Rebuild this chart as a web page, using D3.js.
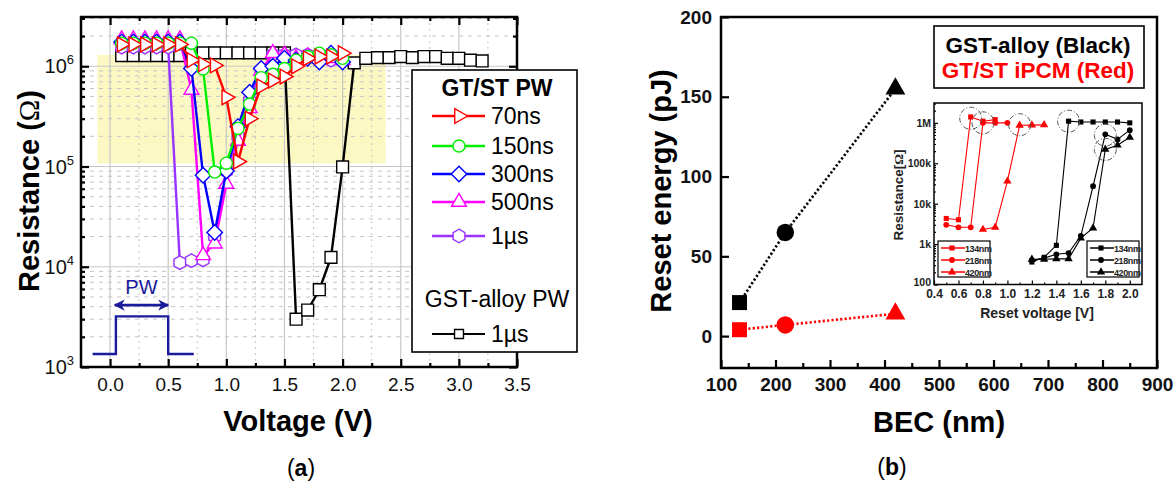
<!DOCTYPE html>
<html><head><meta charset="utf-8">
<script src="https://cdn.jsdelivr.net/npm/d3@7"></script>
<style>
body{margin:0;background:#fff}
svg{display:block}
text{font-family:'Liberation Sans',Arial,sans-serif}
</style>
</head><body>
<svg id="c" width="1175" height="486"></svg>
<script>
// ---------- Panel (a) data ----------
const voltsGTST = [0.1,0.2,0.3,0.4,0.5,0.6,0.7,0.8,0.9,1.0,1.1,1.2,1.3,1.4,1.5,1.6,1.7,1.8,1.9,2.0];
const res70ns  = [1.65e6,1.65e6,1.65e6,1.65e6,1.65e6,1.65e6,1.15e6,1.05e6,1.02e6,4.9e5,1.12e5,3.0e5,6.3e5,7.2e5,7.9e5,1.0e6,1.2e6,1.25e6,1.25e6,1.35e6];
const res150ns = [1.7e6,1.7e6,1.7e6,1.7e6,1.7e6,1.7e6,1.7e6,9.4e5,8.8e4,1.08e5,2.4e5,4.2e5,7.7e5,8.3e5,9.5e5,1.15e6,1.25e6,1.35e6,1.3e6,1.2e6];
const res300ns = [1.75e6,1.75e6,1.75e6,1.75e6,1.75e6,1.75e6,9.5e5,8.2e4,2.2e4,9.0e4,2.5e5,5.5e5,9.5e5,1.0e6,1.2e6,1.15e6,1.2e6,1.1e6,1.35e6,1.1e6];
const res500ns = [1.85e6,1.85e6,1.85e6,1.85e6,1.85e6,1.85e6,5.8e5,1.3e4,1.7e4,6.7e4,1.8e5,3.8e5,9.0e5,1.35e6,1.3e6,1.2e6,1.25e6,1.2e6,1.2e6,1.15e6];
const res1us   = [1.55e6,1.55e6,1.55e6,1.55e6,1.55e6,1.1e4,1.15e4,1.17e4,2.0e4,9.0e4,2.0e5,4.5e5,9.0e5,1.3e6,1.3e6,1.3e6,1.3e6,1.25e6,1.15e6,1.2e6];
const voltsGST = [0.1,0.2,0.3,0.4,0.5,0.6,0.7,0.8,0.9,1.0,1.1,1.2,1.3,1.4,1.5,1.6,1.7,1.8,1.9,2.0,2.1,2.2,2.3,2.4,2.5,2.6,2.7,2.8,2.9,3.0,3.1,3.2];
const resGST1us = [1.28e6,1.28e6,1.28e6,1.28e6,1.28e6,1.28e6,1.36e6,1.36e6,1.36e6,1.36e6,1.36e6,1.36e6,1.36e6,1.36e6,1.36e6,3.0e3,3.7e3,5.9e3,1.24e4,9.9e4,1.08e6,1.2e6,1.22e6,1.22e6,1.25e6,1.22e6,1.25e6,1.25e6,1.2e6,1.2e6,1.15e6,1.13e6];
const voltTicksA = [0.0,0.5,1.0,1.5,2.0,2.5,3.0,3.5];
const resDecadesA = [1e3,1e4,1e5,1e6];
const legendA = ['70ns','150ns','300ns','500ns','1\u00b5s'];

// ---------- Panel (b) data ----------
const becNm = [134,218,420];
const energyGST = [21,65,155];
const energyIPCM = [4,7,14];
const becTicks = [100,200,300,400,500,600,700,800,900];
const energyTicks = [0,50,100,150,200];

// ---------- Inset data ----------
const insetRedV134 = [0.5,0.6,0.7,0.8,0.9];
const insetRedR134 = [4.3e3,4.0e3,1.4e6,1.1e6,1.2e6];
const insetRedV218 = [0.5,0.6,0.7,0.8,0.9,1.0];
const insetRedR218 = [3.0e3,2.6e3,2.6e3,1.0e6,1.0e6,1.0e6];
const insetRedV420 = [0.8,0.9,1.0,1.1,1.2,1.3];
const insetRedR420 = [2.3e3,2.6e3,3.6e4,8.7e5,8.8e5,8.9e5];
const insetBlkV = [1.2,1.3,1.4,1.5,1.6,1.7,1.8,1.9,2.0];
const insetBlkR134 = [3.6e2,4.7e2,9.3e2,1.1e6,1.05e6,1.05e6,1.05e6,1.05e6,1.0e6];
const insetBlkR218 = [4.0e2,4.5e2,5.6e2,6.0e2,1.6e3,2.7e4,5.2e5,3.9e5,6.6e5];
const insetBlkR420 = [4.2e2,4.2e2,4.3e2,4.3e2,1.4e3,2.5e3,2.2e5,2.8e5,4.4e5];
const insetCircV = [0.7,0.8,1.1,1.5,1.8,1.8];
const insetCircR = [1.3e6,1.0e6,0.9e6,1.1e6,5.0e5,2.2e5];
const insetVTicks = [0.4,0.6,0.8,1.0,1.2,1.4,1.6,1.8,2.0];
const insetRTicks = [100,1e3,1e4,1e5,1e6];
const insetRLabels = ['100','1k','10k','100k','1M'];
const insetLegend = ['134nm','218nm','420nm'];

const svg = d3.select('#c');

// ================= PANEL (a) =================
const xA = d3.scaleLinear().domain([-0.25,3.5]).range([81,517]);
const yA = d3.scaleLog().domain([1e3,3.1e6]).range([367,17]);
const gA = svg.append('g');

// yellow window
gA.append('rect')
  .attr('x',xA(-0.11)).attr('y',yA(1.3e6))
  .attr('width',xA(2.37)-xA(-0.11)).attr('height',yA(1.07e5)-yA(1.3e6))
  .attr('fill','#fcf8c4');

// grid
const minorV = d3.range(-0.25,3.5,0.5).filter(v=>v>-0.25);
const minorR = [];
[1e3,1e4,1e5,1e6].forEach(d=>{for(let k=2;k<=9;k++){const v=d*k; if(v<3.1e6) minorR.push(v);}});
gA.selectAll('.gmv').data(minorV).join('line')
  .attr('x1',d=>xA(d)).attr('x2',d=>xA(d)).attr('y1',17).attr('y2',367)
  .attr('stroke','#c4c4c4').attr('stroke-width',1).attr('stroke-dasharray','2,4');
gA.selectAll('.gmh').data(minorR).join('line')
  .attr('x1',81).attr('x2',517).attr('y1',d=>yA(d)).attr('y2',d=>yA(d))
  .attr('stroke','#c4c4c4').attr('stroke-width',1).attr('stroke-dasharray','4,5');
gA.selectAll('.gMv').data(voltTicksA.slice(0,7)).join('line')
  .attr('x1',d=>xA(d)).attr('x2',d=>xA(d)).attr('y1',17).attr('y2',367)
  .attr('stroke','#c8c8c8').attr('stroke-width',1.2);
gA.selectAll('.gMh').data([1e4,1e5,1e6]).join('line')
  .attr('x1',81).attr('x2',517).attr('y1',d=>yA(d)).attr('y2',d=>yA(d))
  .attr('stroke','#c8c8c8').attr('stroke-width',1.2);

// axes (inward ticks)
function styleAxis(g){ g.select('.domain').remove(); g.selectAll('line').attr('stroke','#000').attr('stroke-width',2.2); }
gA.append('g').attr('transform','translate(0,367)')
  .call(d3.axisBottom(xA).tickValues(voltTicksA).tickSize(-8).tickPadding(11).tickFormat(d3.format('.1f')))
  .call(styleAxis).call(g=>g.selectAll('text').attr('font-size',19).attr('fill','#111'));
gA.append('g').attr('transform','translate(0,367)')
  .call(d3.axisBottom(xA).tickValues(minorV).tickSize(-4).tickFormat(''))
  .call(styleAxis);
gA.append('g').attr('transform','translate(0,17)')
  .call(d3.axisTop(xA).tickValues(voltTicksA).tickSize(-8).tickFormat(''))
  .call(styleAxis);
gA.append('g').attr('transform','translate(0,17)')
  .call(d3.axisTop(xA).tickValues(minorV).tickSize(-4).tickFormat(''))
  .call(styleAxis);
gA.append('g').attr('transform','translate(81,0)')
  .call(d3.axisLeft(yA).tickValues(resDecadesA).tickSize(-8).tickFormat(''))
  .call(styleAxis);
gA.append('g').attr('transform','translate(81,0)')
  .call(d3.axisLeft(yA).tickValues(minorR).tickSize(-4).tickFormat(''))
  .call(styleAxis);
gA.append('g').attr('transform','translate(517,0)')
  .call(d3.axisRight(yA).tickValues(resDecadesA).tickSize(-8).tickFormat(''))
  .call(styleAxis);
gA.append('g').attr('transform','translate(517,0)')
  .call(d3.axisRight(yA).tickValues(minorR).tickSize(-4).tickFormat(''))
  .call(styleAxis);
// y labels with superscripts
resDecadesA.forEach(d=>{
  const t = gA.append('text').attr('x',74).attr('y',yA(d)+7).attr('text-anchor','end')
    .attr('font-size',20).attr('fill','#111');
  t.append('tspan').text('10');
  t.append('tspan').attr('dy',-9).attr('font-size',13).text(Math.round(Math.log10(d)));
});

// series
function hexPath(r){ const p=[]; for(let i=0;i<6;i++){const a=Math.PI/180*(60*i-90); p.push([r*Math.cos(a),r*Math.sin(a)]);} return 'M'+p.map(q=>q.join(',')).join('L')+'Z'; }
const shapes = {
  triR: {d: d3.symbol(d3.symbolTriangle,95)(), rot:90},
  circle: {d: d3.symbol(d3.symbolCircle,115)(), rot:0},
  diamond: {d: d3.symbol(d3.symbolSquare,120)(), rot:45},
  triU: {d: d3.symbol(d3.symbolTriangle,95)(), rot:0},
  hex: {d: hexPath(6.8), rot:0},
  square: {d: d3.symbol(d3.symbolSquare,140)(), rot:0}
};
const seriesA = [
  {vals:resGST1us, volts:voltsGST, color:'#000000', shape:'square'},
  {vals:res1us, volts:voltsGTST, color:'#9933ff', shape:'hex'},
  {vals:res500ns, volts:voltsGTST, color:'#ff00ff', shape:'triU'},
  {vals:res300ns, volts:voltsGTST, color:'#0000ff', shape:'diamond'},
  {vals:res150ns, volts:voltsGTST, color:'#00ee00', shape:'circle'},
  {vals:res70ns, volts:voltsGTST, color:'#ff0000', shape:'triR'}
];
const lineA = d3.line().x(d=>xA(d[0])).y(d=>yA(d[1]));
seriesA.forEach(s=>{
  const pts = s.volts.map((v,i)=>[v,s.vals[i]]);
  gA.append('path').datum(pts).attr('d',lineA).attr('fill','none')
    .attr('stroke',s.color).attr('stroke-width',2.4);
  gA.selectAll(null).data(pts).join('path')
    .attr('d',shapes[s.shape].d)
    .attr('transform',d=>`translate(${xA(d[0])},${yA(d[1])}) rotate(${shapes[s.shape].rot})`)
    .attr('fill','#fff').attr('stroke',s.color).attr('stroke-width',1.4);
});

// frame
gA.append('rect').attr('x',81).attr('y',17).attr('width',436).attr('height',350)
  .attr('fill','none').attr('stroke','#000').attr('stroke-width',2.5);

// pulse annotation
const pulseV = [-0.15,0.05,0.05,0.5,0.5,0.72];
const pulseR = [1.35e3,1.35e3,3.2e3,3.2e3,1.35e3,1.35e3];
const pwColor = '#1a1a9a';
gA.append('path').datum(pulseV.map((v,i)=>[v,pulseR[i]])).attr('d',lineA)
  .attr('fill','none').attr('stroke',pwColor).attr('stroke-width',2.4);
const defs = svg.append('defs');
defs.append('marker').attr('id','ah').attr('viewBox','0 0 10 10').attr('refX',9).attr('refY',5)
  .attr('markerWidth',4).attr('markerHeight',4).attr('orient','auto-start-reverse').attr('markerUnits','strokeWidth')
  .append('path').attr('d','M0,0L10,5L0,10L3,5Z').attr('fill',pwColor);
gA.append('line').attr('x1',xA(0.04)).attr('x2',xA(0.5)).attr('y1',yA(4.15e3)).attr('y2',yA(4.15e3))
  .attr('stroke',pwColor).attr('stroke-width',2.8)
  .attr('marker-start','url(#ah)').attr('marker-end','url(#ah)');
gA.append('text').attr('x',xA(0.27)).attr('y',yA(5.3e3)).attr('text-anchor','middle')
  .attr('font-size',20).attr('fill',pwColor).text('PW');

// legend (a)
const lg = gA.append('g');
lg.append('rect').attr('x',412).attr('y',70).attr('width',165).attr('height',282)
  .attr('fill','#fff').attr('stroke','#000').attr('stroke-width',1.6);
lg.append('text').attr('x',497).attr('y',96).attr('text-anchor','middle').attr('font-size',23)
  .attr('font-weight','bold').text('GT/ST PW');
const legRows = [116,146,174,202,236];
const legSeries = seriesA.slice(1).reverse();
legSeries.forEach((s,i)=>{
  const y = legRows[i];
  lg.append('line').attr('x1',432).attr('x2',485).attr('y1',y).attr('y2',y).attr('stroke',s.color).attr('stroke-width',2.4);
  lg.append('path').attr('d',shapes[s.shape].d).attr('transform',`translate(459,${y}) rotate(${shapes[s.shape].rot})`)
    .attr('fill','#fff').attr('stroke',s.color).attr('stroke-width',1.4);
  lg.append('text').attr('x',491).attr('y',y+8).attr('font-size',23).text(legendA[i]);
});
lg.append('text').attr('x',497).attr('y',307).attr('text-anchor','middle').attr('font-size',23).text('GST-alloy PW');
lg.append('line').attr('x1',432).attr('x2',485).attr('y1',334).attr('y2',334).attr('stroke','#000').attr('stroke-width',2);
lg.append('path').attr('d',d3.symbol(d3.symbolSquare,80)()).attr('transform','translate(459,334)')
  .attr('fill','#fff').attr('stroke','#000').attr('stroke-width',1.4);
lg.append('text').attr('x',491).attr('y',342).attr('font-size',23).text('1\u00b5s');

// axis titles (a)
gA.append('text').attr('x',298).attr('y',431).attr('text-anchor','middle').attr('font-size',29)
  .attr('font-weight','bold').text('Voltage (V)');
const yt = gA.append('text').attr('transform','translate(39,191) rotate(-90)').attr('text-anchor','middle')
  .attr('font-size',29).attr('font-weight','bold');
yt.append('tspan').text('Resistance (');
yt.append('tspan').attr('font-family','Liberation Serif').attr('font-weight','normal').text('\u03a9');
yt.append('tspan').text(')');
const ta = svg.append('text').attr('x',301).attr('y',476).attr('text-anchor','middle').attr('font-size',23)
  .attr('font-family','Liberation Serif');
ta.append('tspan').text('(');
ta.append('tspan').attr('font-weight','bold').text('a');
ta.append('tspan').text(')');

// ================= PANEL (b) =================
const xB = d3.scaleLinear().domain([100,900]).range([721,1157]);
const yB = d3.scaleLinear().domain([-20,200]).range([368,17]);
const gB = svg.append('g');
gB.append('g').attr('transform','translate(0,368)')
  .call(d3.axisBottom(xB).tickValues(becTicks).tickSize(-8).tickPadding(10).tickFormat(d3.format('d')))
  .call(styleAxis).call(g=>g.selectAll('text').attr('font-size',19).attr('font-weight','bold').attr('fill','#111'));
gB.append('g').attr('transform','translate(0,368)')
  .call(d3.axisBottom(xB).tickValues(d3.range(150,900,100)).tickSize(-5).tickFormat(''))
  .call(styleAxis);
gB.append('g').attr('transform','translate(721,0)')
  .call(d3.axisLeft(yB).tickValues(energyTicks).tickSize(-8).tickPadding(9).tickFormat(d3.format('d')))
  .call(styleAxis).call(g=>g.selectAll('text').attr('font-size',19).attr('font-weight','bold').attr('fill','#111'));
gB.append('rect').attr('x',721).attr('y',17).attr('width',436).attr('height',351)
  .attr('fill','none').attr('stroke','#000').attr('stroke-width',2.5);

const lineB = d3.line().x(d=>xB(d[0])).y(d=>yB(d[1]));
[[energyGST,'#000'],[energyIPCM,'#ff0000']].forEach(([vals,col])=>{
  const pts = becNm.map((b,i)=>[b,vals[i]]);
  gB.append('path').datum(pts).attr('d',lineB).attr('fill','none').attr('stroke',col)
    .attr('stroke-width',2.6).attr('stroke-dasharray','2.2,2.2');
  const syms = [d3.symbol(d3.symbolSquare,225)(), d3.symbol(d3.symbolCircle,240)(), d3.symbol(d3.symbolTriangle,170)()];
  gB.selectAll(null).data(pts).join('path').attr('d',(d,i)=>syms[i])
    .attr('transform',d=>`translate(${xB(d[0])},${yB(d[1])})`).attr('fill',col);
});

gB.append('text').attr('x',939).attr('y',432).attr('text-anchor','middle').attr('font-size',29)
  .attr('font-weight','bold').text('BEC (nm)');
gB.append('text').attr('transform','translate(671,191) rotate(-90)').attr('text-anchor','middle')
  .attr('font-size',29).attr('font-weight','bold').text('Reset energy (pJ)');
const tb = svg.append('text').attr('x',892).attr('y',475).attr('text-anchor','middle').attr('font-size',23)
  .attr('font-family','Liberation Serif');
tb.append('tspan').text('(');
tb.append('tspan').attr('font-weight','bold').text('b');
tb.append('tspan').text(')');

// legend (b)
gB.append('rect').attr('x',934).attr('y',26).attr('width',210).attr('height',62)
  .attr('fill','#fff').attr('stroke','#000').attr('stroke-width',1.6);
gB.append('text').attr('x',1038).attr('y',53).attr('text-anchor','middle').attr('font-size',22.5)
  .attr('font-weight','bold').text('GST-alloy (Black)');
gB.append('text').attr('x',1038).attr('y',78).attr('text-anchor','middle').attr('font-size',22.5)
  .attr('font-weight','bold').attr('fill','#ff0000').text('GT/ST iPCM (Red)');

// ================= INSET =================
const xC = d3.scaleLinear().domain([0.4,2.1]).range([934,1142]);
const yC = d3.scaleLog().domain([100,3.1e6]).range([284.5,103]);
const gC = svg.append('g');
gC.append('rect').attr('x',934).attr('y',103).attr('width',208).attr('height',181.5)
  .attr('fill','#fff').attr('stroke','#000').attr('stroke-width',1.5);
function styleSmall(g){ g.select('.domain').remove(); g.selectAll('line').attr('stroke','#000').attr('stroke-width',1.2); }
gC.append('g').attr('transform','translate(0,284.5)')
  .call(d3.axisBottom(xC).tickValues(insetVTicks).tickSize(-4).tickPadding(5).tickFormat(d3.format('.1f')))
  .call(styleSmall).call(g=>g.selectAll('text').attr('font-size',12).attr('font-weight','bold').attr('fill','#222'));
gC.append('g').attr('transform','translate(0,284.5)')
  .call(d3.axisBottom(xC).tickValues(d3.range(0.5,2.1,0.2)).tickSize(-2).tickFormat(''))
  .call(styleSmall);
gC.append('g').attr('transform','translate(934,0)')
  .call(d3.axisLeft(yC).tickValues(insetRTicks).tickSize(-4).tickPadding(3).tickFormat((d,i)=>insetRLabels[i]))
  .call(styleSmall).call(g=>g.selectAll('text').attr('font-size',10.5).attr('font-weight','bold').attr('fill','#222')
     .attr('dy',(d,i)=>i===0?'0.1em':'0.32em'));
const minorC=[]; [100,1e3,1e4,1e5,1e6].forEach(d=>{for(let k=2;k<=9;k++){const v=d*k; if(v<3.1e6) minorC.push(v);}});
gC.append('g').attr('transform','translate(934,0)')
  .call(d3.axisLeft(yC).tickValues(minorC).tickSize(-2).tickFormat(''))
  .call(styleSmall);
gC.append('text').attr('x',1037).attr('y',318).attr('text-anchor','middle').attr('font-size',14)
  .attr('font-weight','bold').attr('fill','#222').text('Reset voltage [V]');
const yc = gC.append('text').attr('transform','translate(903,195) rotate(-90)').attr('text-anchor','middle')
  .attr('font-size',13.5).attr('font-weight','bold').attr('fill','#222');
yc.append('tspan').text('Resistance[');
yc.append('tspan').attr('font-family','Liberation Serif').text('\u03a9');
yc.append('tspan').text(']');

const lineC = d3.line().x(d=>xC(d[0])).y(d=>yC(d[1]));
const symC = [d3.symbol(d3.symbolSquare,26)(), d3.symbol(d3.symbolCircle,26)(), d3.symbol(d3.symbolTriangle,30)()];
const insetSeries = [
  [insetRedV134,insetRedR134,'#ff0000',0],[insetRedV218,insetRedR218,'#ff0000',1],[insetRedV420,insetRedR420,'#ff0000',2],
  [insetBlkV,insetBlkR134,'#000',0],[insetBlkV,insetBlkR218,'#000',1],[insetBlkV,insetBlkR420,'#000',2]
];
insetSeries.forEach(([vs,rs,col,si])=>{
  const pts = vs.map((v,i)=>[v,rs[i]]);
  gC.append('path').datum(pts).attr('d',lineC).attr('fill','none').attr('stroke',col).attr('stroke-width',1.1);
  gC.selectAll(null).data(pts).join('path').attr('d',symC[si])
    .attr('transform',d=>`translate(${xC(d[0])},${yC(d[1])})`).attr('fill',col);
});
gC.selectAll(null).data(insetCircV.map((v,i)=>[v,insetCircR[i]])).join('circle')
  .attr('cx',d=>xC(d[0])).attr('cy',d=>yC(d[1])).attr('r',11)
  .attr('fill','none').attr('stroke','#555').attr('stroke-width',1).attr('stroke-dasharray','5,2,1,2');

// inset legends
[[938,'#ff0000'],[1087,'#000']].forEach(([lx,col])=>{
  gC.append('rect').attr('x',lx).attr('y',241).attr('width',52).attr('height',36)
    .attr('fill','#fff').attr('stroke','#000').attr('stroke-width',1.2);
  insetLegend.forEach((t,i)=>{
    const y = 248+i*12;
    gC.append('line').attr('x1',lx+3).attr('x2',lx+27).attr('y1',y).attr('y2',y).attr('stroke',col).attr('stroke-width',1.5);
    gC.append('path').attr('d',symC[i]).attr('transform',`translate(${lx+14},${y})`).attr('fill',col);
    gC.append('text').attr('x',lx+27).attr('y',y+3.5).attr('font-size',9).attr('font-weight','bold')
      .attr('letter-spacing',-0.4).attr('fill','#222').text(t);
  });
});
</script>
</body></html>
